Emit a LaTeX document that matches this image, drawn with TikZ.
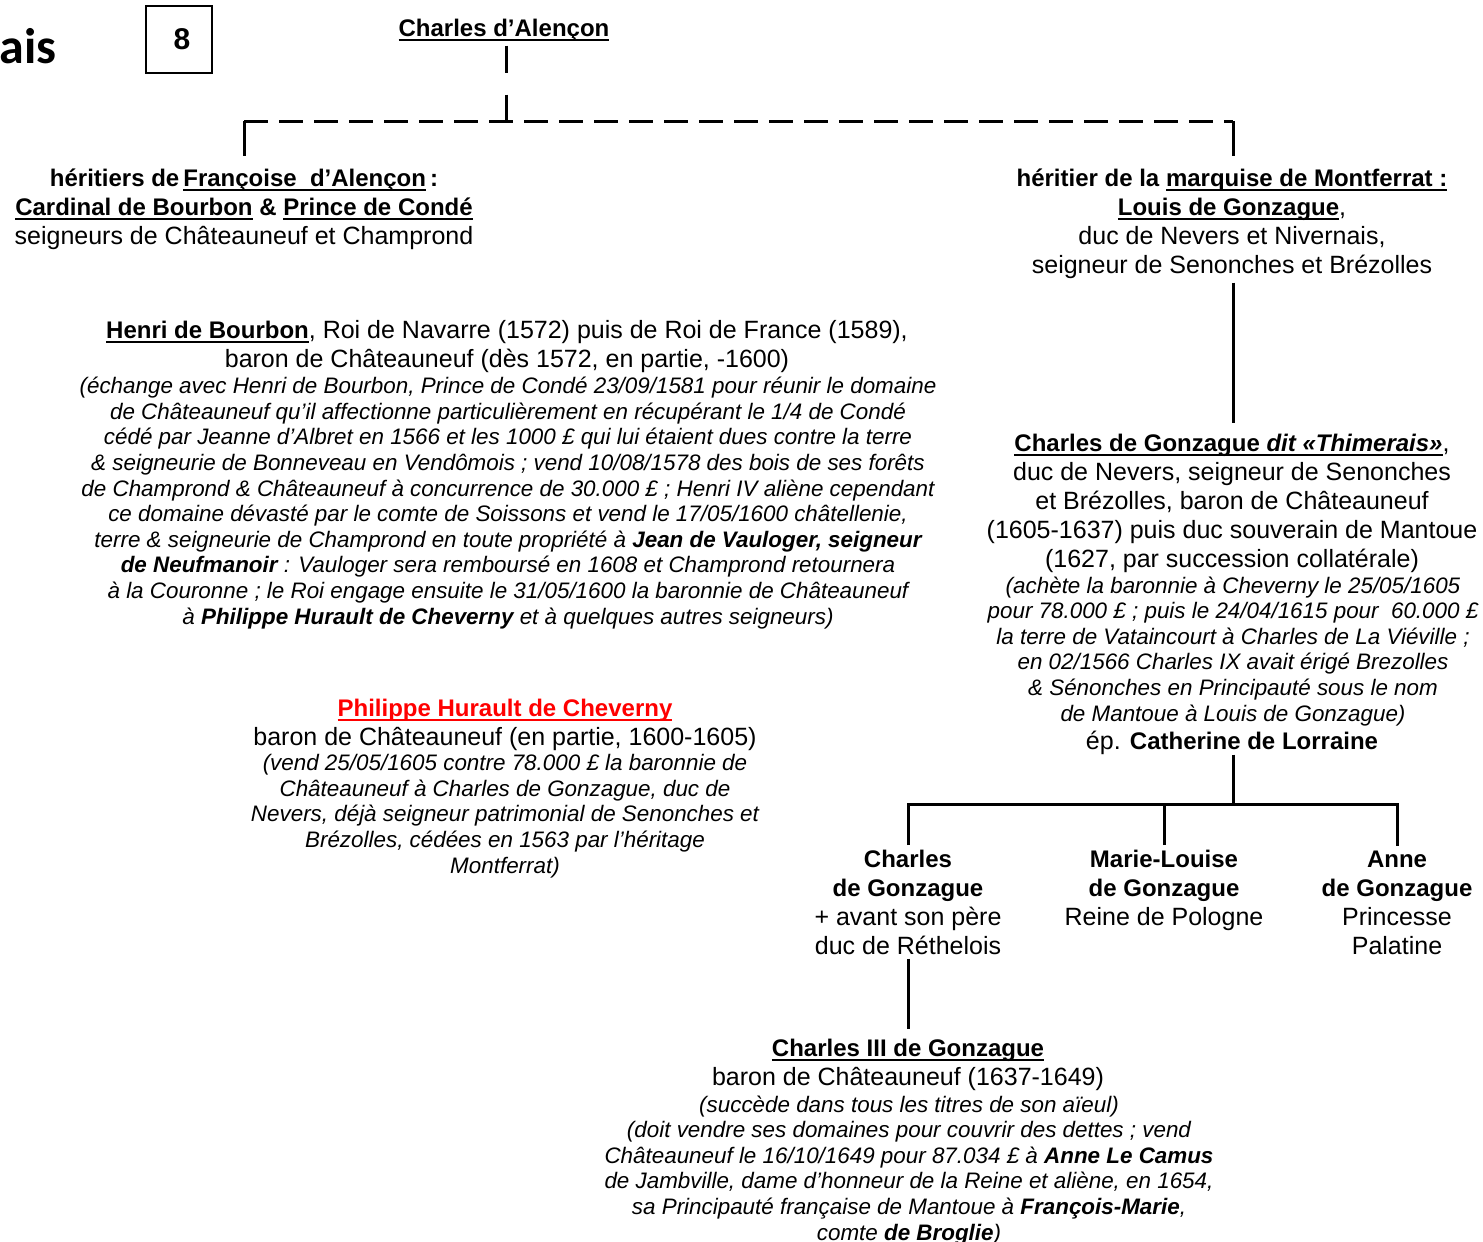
\documentclass[tikz,border=0pt]{standalone}
\usepackage{fontspec}
\setmainfont{Liberation Sans}
\newfontfamily\titrefont{Carlito}

\newsavebox\soulbox
\newcommand{\souligne}[1]{\sbox\soulbox{#1}\rlap{\rule[-2.6pt]{\wd\soulbox}{1pt}}\usebox\soulbox}
\newcommand{\nom}[1]{{\fontsize{12}{14.5}\selectfont\bfseries #1}}
\newcommand{\txt}{\fontsize{12.5}{14.5}\selectfont}
\newcommand{\nte}{\fontsize{11.2}{12.8}\selectfont\itshape}

\begin{document}
\begin{tikzpicture}[x=0.5pt, y=-0.5pt]
            \useasboundingbox (0,0) rectangle (1483,1242);

            \node (titre) [anchor=base west, inner sep=0pt, font=\titrefont\bfseries\fontsize{25}{28}\selectfont] at (-1,63) {ais};
            \node (page) [draw, line width=0.6pt, minimum width=33pt, minimum height=33.5pt, font=\bfseries\fontsize{15}{17}\selectfont] at (179,39.5) {\hspace*{3pt}8\raisebox{2pt}{}};

            % anchor=base : ligne de base de la derniere ligne
            \begin{scope}[every node/.style={align=center, anchor=base, inner sep=2pt, font=\txt}]
                \node (CA) at (504,36) {\nom{\souligne{Charles d’Alençon}}};
                \node (HF) at (244,244) {\nom{héritiers de\,\souligne{Françoise\ \ d’Alençon}\,:}\\
                    \nom{\souligne{Cardinal de Bourbon} \& \souligne{Prince de Condé}}\\
                    seigneurs de Châteauneuf et Champrond};
                \node (HM) at (1232,273) {\nom{héritier de la \souligne{marquise de Montferrat :}}\\
                    \nom{\souligne{Louis de Gonzague}},\\
                    duc de Nevers et Nivernais,\\
                    seigneur de Senonches et Brézolles};
                \node (HB) at (507,367) {\nom{\souligne{Henri de Bourbon}}, Roi de Navarre (1572) puis de Roi de France (1589),\\
                    baron de Châteauneuf (dès 1572, en partie, -1600)};
                \node (PH) at (505,745) {\textcolor{red}{\nom{\souligne{Philippe Hurault de Cheverny}}}\\
                    baron de Châteauneuf (en partie, 1600-1605)};
                \node (CG) at (1232,567) {\nom{\souligne{Charles de Gonzague \textit{dit «Thimerais»}}},\\
                    duc de Nevers, seigneur de Senonches\\
                    et Brézolles, baron de Châteauneuf\\
                    (1605-1637) puis duc souverain de Mantoue\\
                    (1627, par succession collatérale)};
                \node (CGe) at (1232,749) {ép. \nom{Catherine de Lorraine}};
                \node (CG1) at (908,954) {\nom{Charles}\\ \nom{de Gonzague}\\ + avant son père\\ duc de Réthelois};
                \node (ML) at (1164,925) {\nom{Marie-Louise}\\ \nom{de Gonzague}\\ Reine de Pologne};
                \node (AG) at (1397,954) {\nom{Anne}\\ \nom{de Gonzague}\\ Princesse\\ Palatine};
                \node (C3) at (908,1085) {\nom{\souligne{Charles III de Gonzague}}\\
                    baron de Châteauneuf (1637-1649)};
            \end{scope}

            \begin{scope}[every node/.style={align=center, anchor=base, inner sep=2pt, font=\nte}]
                \node (HBn) at (508,624) {(échange avec Henri de Bourbon, Prince de Condé 23/09/1581 pour réunir le domaine\\
                    de Châteauneuf qu’il affectionne particulièrement en récupérant le 1/4 de Condé\\
                    cédé par Jeanne d’Albret en 1566 et les 1000 £ qui lui étaient dues contre la terre\\
                    \& seigneurie de Bonneveau en Vendômois ; vend 10/08/1578 des bois de ses forêts\\
                    de Champrond \& Châteauneuf à concurrence de 30.000 £ ; Henri IV aliène cependant\\
                    ce domaine dévasté par le comte de Soissons et vend le 17/05/1600 châtellenie,\\
                    terre \& seigneurie de Champrond en toute propriété à \textbf{Jean de Vauloger, seigneur}\\
                    \textbf{de Neufmanoir} : Vauloger sera remboursé en 1608 et Champrond retournera\\
                    à la Couronne ; le Roi engage ensuite le 31/05/1600 la baronnie de Châteauneuf\\
                    à \textbf{Philippe Hurault de Cheverny} et à quelques autres seigneurs)};
                \node (PHn) at (505,873) {(vend 25/05/1605 contre 78.000 £ la baronnie de\\
                    Châteauneuf à Charles de Gonzague, duc de\\
                    Nevers, déjà seigneur patrimonial de Senonches et\\
                    Brézolles, cédées en 1563 par l’héritage\\
                    Montferrat)};
                \node (CGn) at (1233,721) {(achète la baronnie à Cheverny le 25/05/1605\\
                    pour 78.000 £ ; puis le 24/04/1615 pour \ 60.000 £\\
                    la terre de Vataincourt à Charles de La Viéville ;\\
                    en 02/1566 Charles IX avait érigé Brezolles\\
                    \& Sénonches en Principauté sous le nom\\
                    de Mantoue à Louis de Gonzague)};
                \node (C3n) at (909,1240) {(succède dans tous les titres de son aïeul)\\
                    (doit vendre ses domaines pour couvrir des dettes ; vend\\
                    Châteauneuf le 16/10/1649 pour 87.034 £ à \textbf{Anne Le Camus}\\
                    de Jambville, dame d’honneur de la Reine et aliène, en 1654,\\
                    sa Principauté française de Mantoue à \textbf{François-Marie},\\
                    comte \textbf{de Broglie})};
            \end{scope}

            % jonctions
            \coordinate (J) at (506,121);
            \coordinate (JG) at (244,121);
            \coordinate (JD) at (1233,121);
            \coordinate (JE) at (1233,804);

            \begin{scope}[line width=1.5pt]
                \draw [dash pattern=on 13.5pt off 11pt] (CA.south -| J) -- (J);
                \draw [dash pattern=on 12pt off 5.5pt] (JG) -- (JD);
                \draw [shorten >=4pt] (JG) -- (HF.north -| JG);
                \draw [shorten >=4pt] (JD) -- (HM.north -| JD);
                \draw [shorten >=3pt] (HM.south -| JD) -- (CG.north -| JD);
                \draw [shorten <=-2pt] (CGe.south -| JE) -- (JE);
                \draw (CG1.north) |- (JE) -| (AG.north);
                \draw (ML.north) -- (ML.north |- JE);
                \draw [shorten >=2.5pt] (CG1.south) -- (C3.north);
            \end{scope}
        \end{tikzpicture}
\end{document}
